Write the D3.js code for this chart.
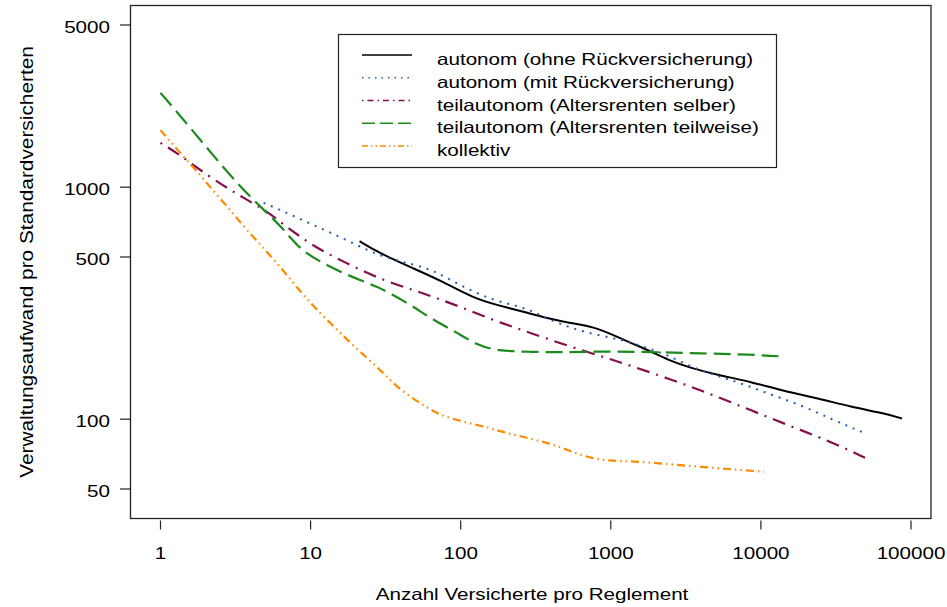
<!DOCTYPE html>
<html>
<head>
<meta charset="utf-8">
<script src="https://cdn.jsdelivr.net/npm/d3@7"></script>
<style>
  body { margin: 0; background: #fff; }
  text { font-family: "Liberation Sans", Arial, sans-serif; fill: #000; }
</style>
</head>
<body>
<div id="chart"></div>
<script>
// series: [Anzahl Versicherte, Verwaltungsaufwand]
var autonomOhne = [[21.2,585],[29.3,516],[48.6,446],[76,392],[122,332],[176,310],[263,290],[378,272],
    [541,259],[770,250],[1047,230],[1360,213],[1848,196],[2400,180],[3414,166],[5165,155],[8577,145],
    [14230,132],[24000,123],[39800,113],[66000,106],[87100,100.7]];
var autonomMit = [[4.86,856],[6.31,796],[10.5,686],[17.5,591],[29.3,501],[48.6,465],[66,437],[89.8,391],
    [122,354],[166,326],[226,310],[293,295],[380,270],[541,247],[819,230],[1222,219],[1765,202],[2400,189],
    [3414,168],[5165,153],[7356,143],[11130,129],[18480,115],[30660,99],[48600,87.3]];
var teilSelber = [[1,1552],[1.36,1373],[2.26,1072],[3.98,864],[5.17,783],[6.48,697],[10.5,553],[17.5,469],
    [29.3,400],[48.6,360],[69.5,332],[105,301],[176,263],[293,235],[541,205],[955,183],[1422,168],[2400,150],
    [3981,133],[6607,117],[11130,102],[18480,89.7],[30660,78.8],[50100,67.9]];
var teilTeilweise = [[1,2550],[1.51,1869],[3.07,1072],[4.64,822],[6.48,670],[8.58,535],[11.7,476],[15.8,431],
    [21.5,397],[27.8,372],[35.8,342],[48.6,305],[63.1,272],[95.5,235],[130,208],[176,197],[293,195],[486,194],
    [819,196],[1848,195],[3981,192],[8577,190],[14230,186]];
var kollektiv = [[1,1761],[1.36,1397],[1.85,1126],[2.27,954],[2.93,796],[3.59,674],[6.03,470],[9.7,320],
    [13.6,259],[17.6,219],[23.9,183],[30.8,157],[39.8,133],[54.1,117],[71.7,104],[111,96.4],[158,91.5],
    [185,88.2],[307,82],[464,76],[661,68.8],[1000,65.9],[1422,65.9],[2400,64],[3981,62.3],[6607,60.7],[10470,59.3]];

var seriesNames = ["autonom (ohne Rückversicherung)", "autonom (mit Rückversicherung)",
    "teilautonom (Altersrenten selber)", "teilautonom (Altersrenten teilweise)", "kollektiv"];
var xTicks = [1, 10, 100, 1000, 10000, 100000];
var yTicks = [50, 100, 500, 1000, 5000];
var xTitle = "Anzahl Versicherte pro Reglement";
var yTitle = "Verwaltungsaufwand pro Standardversicherten";

var series = [autonomOhne, autonomMit, teilSelber, teilTeilweise, kollektiv];
var colors = ["#000000", "#2360a8", "#85104c", "#1d8a1d", "#ff8a00"];
var dashes = [null, "2,6", "2,7,13,7", "17,7", "8,4,1.5,4,1.5,4"];
var legendDashes = [null, "1.5,5", "1.5,4,6,4", "13,5", "6,3,1.5,3,1.5,3"];
var widths = [2, 2, 2.2, 2.2, 2.2];

var W = 947, H = 607;
var box = {left: 130.5, right: 931, top: 5.5, bottom: 518.5};
var sx = 1.25; // text in the picture is drawn wide

var svg = d3.select("#chart").append("svg")
    .attr("width", W)
    .attr("height", H);

var x = d3.scaleLog().domain([1, 100000]).range([160.5, 911]);
var y = d3.scaleLog().domain([50, 5000]).range([489, 25]);

// curves (smoothed, like the loess lines)
var line = d3.line()
    .x(function(d) { return x(d[0]); })
    .y(function(d) { return y(d[1]); })
    .curve(d3.curveBasis);

svg.append("g").selectAll("path")
    .data(series)
    .enter().append("path")
    .attr("d", line)
    .attr("fill", "none")
    .attr("stroke", function(d, i) { return colors[i]; })
    .attr("stroke-width", function(d, i) { return widths[i]; })
    .attr("stroke-dasharray", function(d, i) { return dashes[i]; })
    .attr("stroke-linejoin", "round");

// frame
svg.append("rect")
    .attr("x", box.left).attr("y", box.top)
    .attr("width", box.right - box.left).attr("height", box.bottom - box.top)
    .attr("fill", "none").attr("stroke", "#222").attr("stroke-width", 1.3);

// x axis: ticks only, like the base R axis
var xa = svg.append("g");
xa.selectAll("line").data(xTicks).enter().append("line")
    .attr("x1", function(d) { return x(d); }).attr("x2", function(d) { return x(d); })
    .attr("y1", 520.5).attr("y2", 529.5)
    .attr("stroke", "#222").attr("stroke-width", 1.2);
xa.selectAll("text").data(xTicks).enter().append("text")
    .attr("transform", function(d) { return "translate(" + x(d) + ",559) scale(" + sx + ",1)"; })
    .attr("text-anchor", "middle")
    .style("font-size", "16.5px")
    .text(function(d) { return d; });

// y axis
var ya = svg.append("g");
ya.selectAll("line").data(yTicks).enter().append("line")
    .attr("x1", 120).attr("x2", box.left)
    .attr("y1", function(d) { return y(d); }).attr("y2", function(d) { return y(d); })
    .attr("stroke", "#222").attr("stroke-width", 1.2);
ya.selectAll("text").data(yTicks).enter().append("text")
    .attr("transform", function(d) { return "translate(110," + (y(d) + 8) + ") scale(" + sx + ",1)"; })
    .attr("text-anchor", "end")
    .style("font-size", "16.5px")
    .text(function(d) { return d; });

// axis titles
svg.append("text")
    .attr("transform", "translate(532,600) scale(" + sx + ",1)")
    .attr("text-anchor", "middle")
    .style("font-size", "16.5px")
    .text(xTitle);

svg.append("text")
    .attr("transform", "translate(33,262) rotate(-90) scale(1.126,1)")
    .attr("text-anchor", "middle")
    .style("font-size", "18.5px")
    .text(yTitle);

// legend
var lg = svg.append("g");
lg.append("rect")
    .attr("x", 338.5).attr("y", 34.5)
    .attr("width", 438).attr("height", 133)
    .attr("fill", "#fff").attr("stroke", "#222").attr("stroke-width", 1.2);

var rows = lg.selectAll("g.row")
    .data(seriesNames)
    .enter().append("g")
    .attr("class", "row")
    .attr("transform", function(d, i) { return "translate(0," + (55 + i * 22.75) + ")"; });

rows.append("line")
    .attr("x1", 362).attr("x2", 412)
    .attr("stroke", function(d, i) { return colors[i]; })
    .attr("stroke-width", 1.5)
    .attr("stroke-dasharray", function(d, i) { return legendDashes[i]; });

rows.append("text")
    .attr("transform", "translate(437,10) scale(" + sx + ",1)")
    .style("font-size", "16.5px")
    .text(function(d) { return d; });
</script>
</body>
</html>
